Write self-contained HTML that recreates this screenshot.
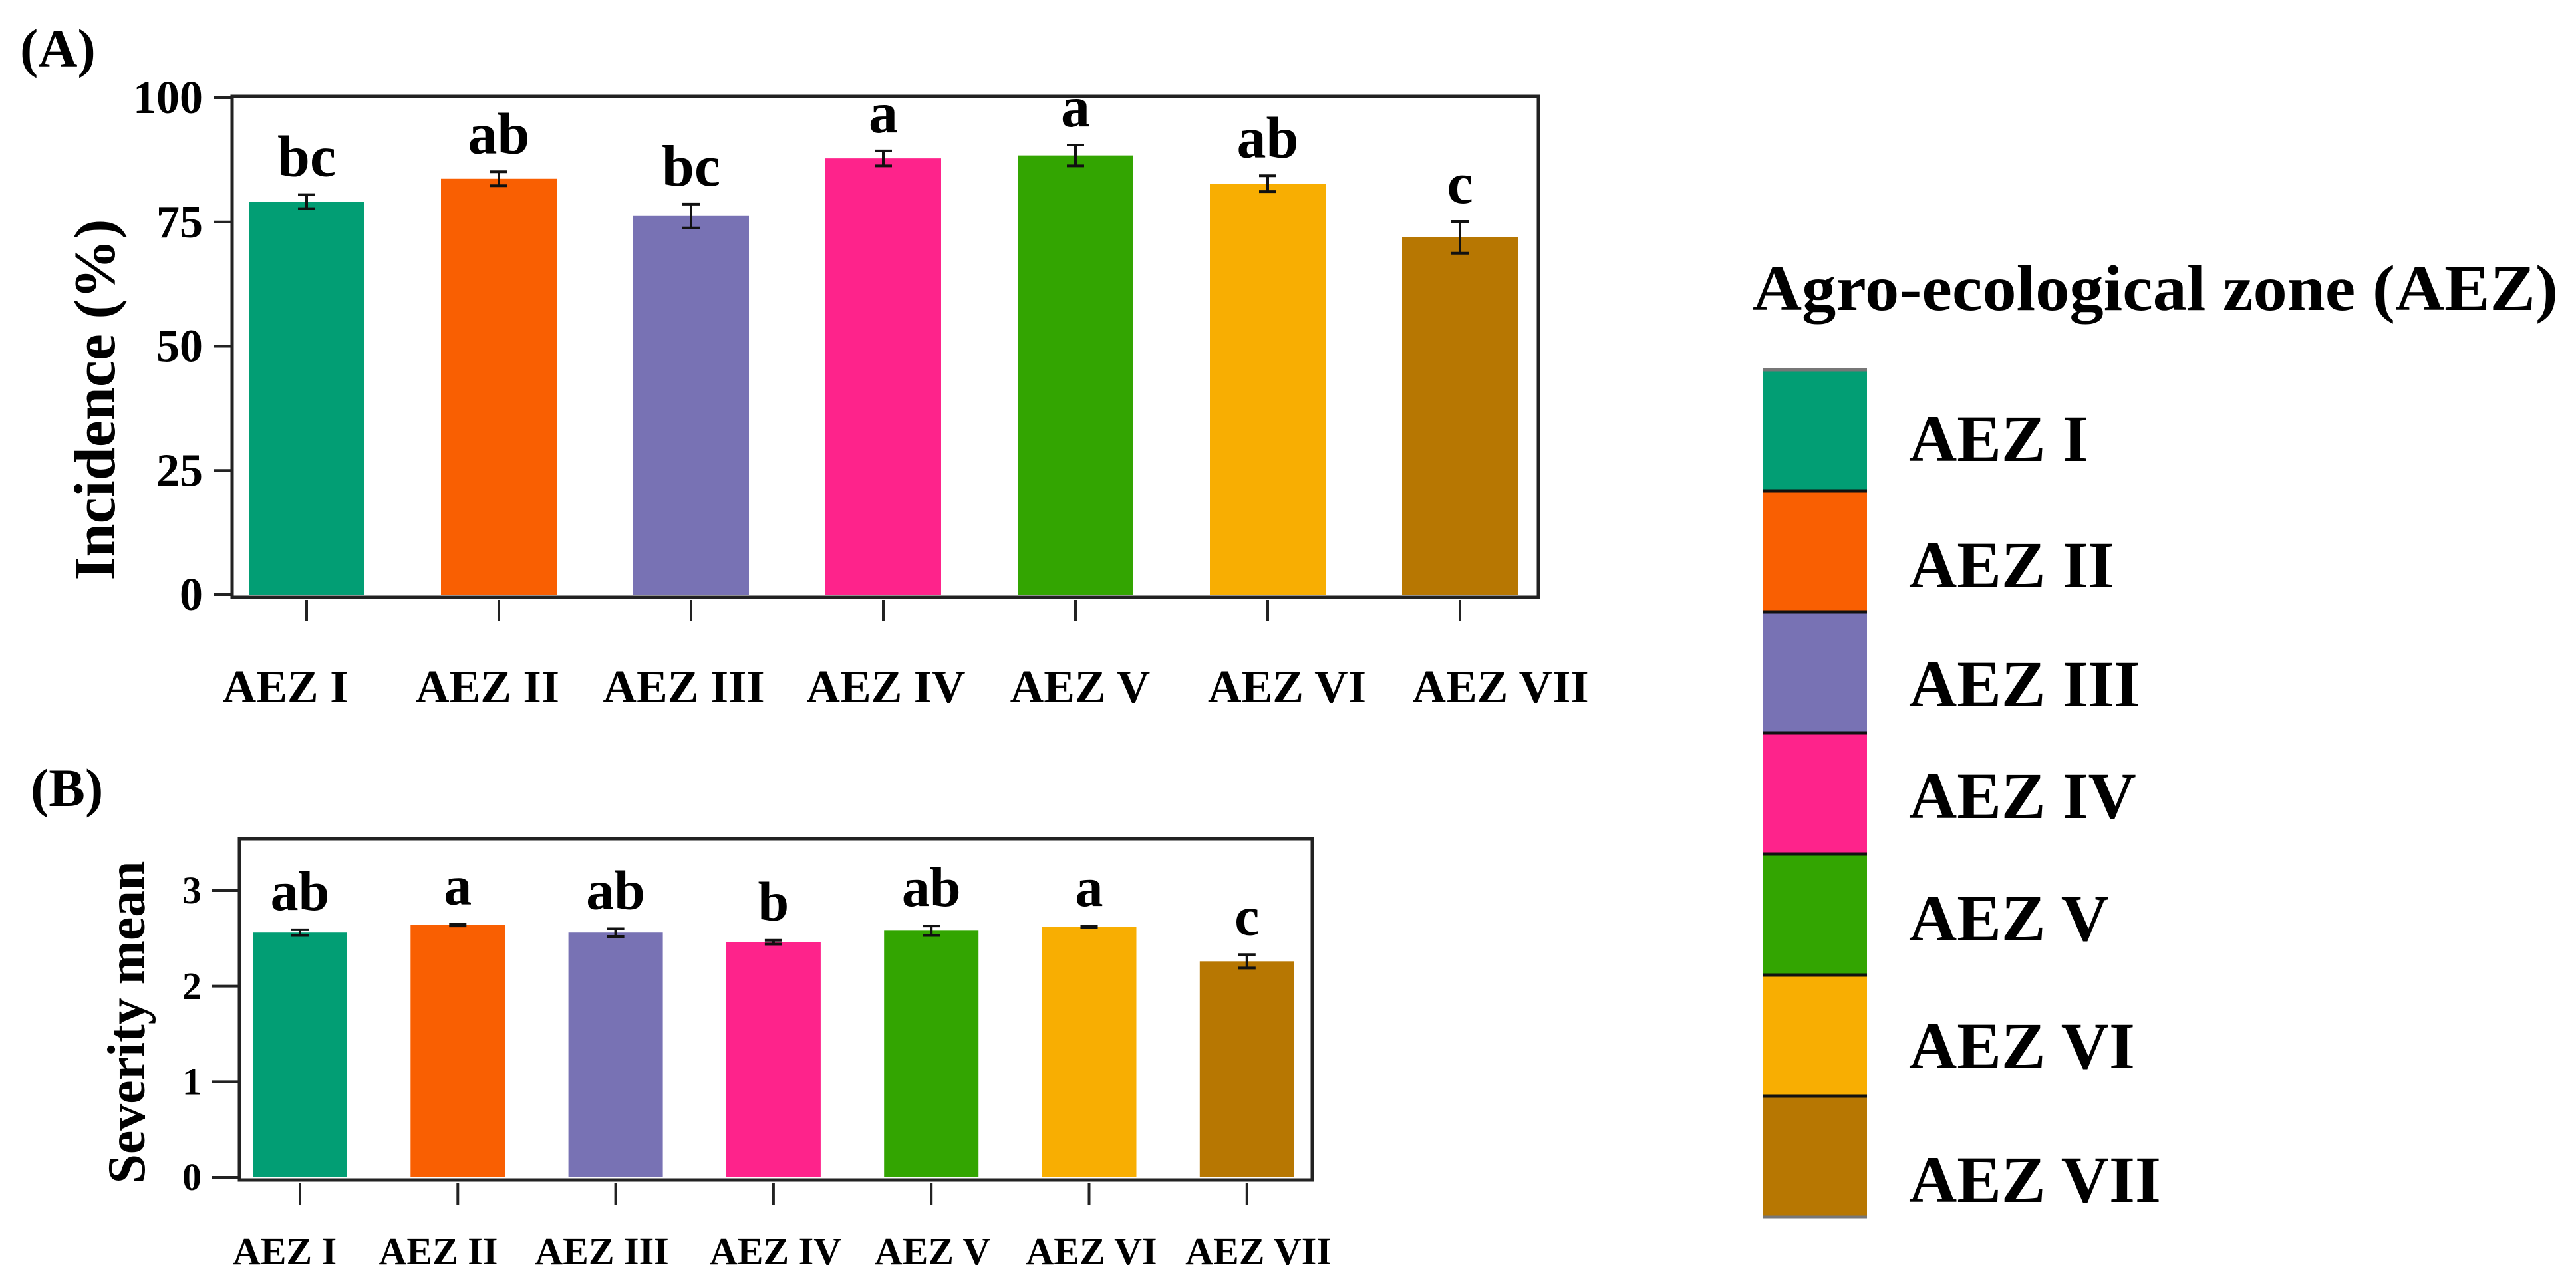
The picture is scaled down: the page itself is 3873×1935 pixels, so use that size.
<!DOCTYPE html>
<html><head><meta charset="utf-8"><style>
html,body{margin:0;padding:0;background:#fff;}
svg{display:block;font-family:"Liberation Serif",serif;font-weight:bold;}
</style></head><body>
<svg id="fig" width="3873" height="1935" viewBox="0 0 3873 1935" xmlns="http://www.w3.org/2000/svg">
<text x="30" y="100" font-size="82">(A)</text>
<text x="46" y="1212" font-size="82">(B)</text>
<g id="chartA"></g>
<g id="chartB"></g>
<g id="legend">
<text x="2635" y="466" font-size="98" textLength="1211" lengthAdjust="spacingAndGlyphs">Agro-ecological zone (AEZ)</text>
</g>
</svg>
<script>
const categories = ["AEZ I","AEZ II","AEZ III","AEZ IV","AEZ V","AEZ VI","AEZ VII"];
const colors = ["#029E74","#F95F02","#7872B4","#FE238B","#33A501","#F8AE02","#B77702"];
const incidenceValues = [79.1, 83.7, 76.2, 87.8, 88.4, 82.7, 71.9];
const incidenceErrors = [1.4, 1.4, 2.4, 1.5, 2.1, 1.6, 3.2];
const incidenceLetters = ["bc","ab","bc","a","a","ab","c"];
const incidenceTicks = [0, 25, 50, 75, 100];
const severityValues = [2.56, 2.64, 2.56, 2.46, 2.58, 2.62, 2.26];
const severityErrors = [0.03, 0.01, 0.04, 0.02, 0.05, 0.01, 0.07];
const severityLetters = ["ab","a","ab","b","ab","a","c"];
const severityTicks = [0, 1, 2, 3];
const xLabelsA = ["AEZ I","AEZ II","AEZ III","AEZ IV","AEZ V","AEZ VI","AEZ  VII"];

const NS = "http://www.w3.org/2000/svg";
function mk(tag, attrs, parent){
  const e = document.createElementNS(NS, tag);
  for (const k in attrs) e.setAttribute(k, attrs[k]);
  parent.appendChild(e); return e;
}

function drawChart(g, cfg){
  const yS = v => cfg.y0 - (v - cfg.ymin) / (cfg.ymax - cfg.ymin) * (cfg.y0 - cfg.yTop);
  const xS = i => cfg.firstX + i * cfg.step;
  // bars
  cfg.values.forEach((v, i) => {
    const r = mk("rect", {x: xS(i) - cfg.bw/2, y: yS(v), width: cfg.bw, height: yS(cfg.ymin) - yS(v), fill: colors[i]}, g);
    
    
    const top = yS(v + cfg.errors[i]), bot = yS(v - cfg.errors[i]);
    const eb = mk("path", {d: `M${xS(i)-13},${top}H${xS(i)+13}M${xS(i)},${top}V${bot}M${xS(i)-13},${bot}H${xS(i)+13}`, stroke: "#111", "stroke-width": 4, fill: "none"}, g);
    
    
    const t = mk("text", {x: xS(i), y: top - cfg.letterGap, "font-size": cfg.letterSize, "text-anchor": "middle"}, g);
    t.textContent = cfg.letters[i];
    
    
    const tk = mk("line", {x1: xS(i), x2: xS(i), y1: cfg.frame.b + 4, y2: cfg.tickBottom, stroke: "#222", "stroke-width": 4}, g);
    
    
  });
  // frame
  const f = cfg.frame;
  const fr = mk("rect", {x: f.l, y: f.t, width: f.r - f.l, height: f.b - f.t, fill: "none", stroke: "#222", "stroke-width": 5}, g);
  
  
  // y ticks
  cfg.ticks.forEach(tv => {
    const ln = mk("line", {x1: cfg.tickLeft, x2: f.l, y1: yS(tv), y2: yS(tv), stroke: "#222", "stroke-width": 4}, g);
    
    
    const tl = mk("text", {x: cfg.tickLeft - 16, y: yS(tv) + cfg.tickSize*0.33, "font-size": cfg.tickSize, "text-anchor": "end"}, g);
    tl.textContent = tv;
    
    
  });
  // x labels
  cfg.xLabels.forEach((lab, i) => {
    const xl = mk("text", {x: cfg.labelX[i], y: cfg.labelY, "font-size": cfg.labelSize, "text-anchor": "middle", "xml:space": "preserve"}, g);
    xl.textContent = lab;
    
    
  });
  const yt = mk("text", {x: cfg.titleX, y: cfg.titleY, "font-size": cfg.titleSize, "text-anchor": "middle", transform: `rotate(-90 ${cfg.titleX} ${cfg.titleY})`, textLength: cfg.titleLen, lengthAdjust: "spacingAndGlyphs"}, g);
  yt.textContent = cfg.title;
  
  
}

drawChart(document.getElementById("chartA"), {
  values: incidenceValues, errors: incidenceErrors, letters: incidenceLetters, ticks: incidenceTicks,
  ymin: 0, ymax: 100, y0: 894, yTop: 147, firstX: 461, step: 289, bw: 174,
  frame: {l: 349, t: 145, r: 2313, b: 898}, tickLeft: 321, tickBottom: 934, tickSize: 70,
  letterGap: 28, letterSize: 88,
  xLabels: xLabelsA, labelX: [429, 733, 1028, 1332, 1624, 1935, 2256], labelY: 1056, labelSize: 70,
  title: "Incidence (%)", titleX: 172, titleY: 601, titleSize: 88, titleLen: 543
});
drawChart(document.getElementById("chartB"), {
  values: severityValues, errors: severityErrors, letters: severityLetters, ticks: severityTicks,
  ymin: 0, ymax: 3, y0: 1770, yTop: 1339, firstX: 451, step: 237.3, bw: 142,
  frame: {l: 360, t: 1261, r: 1973, b: 1774}, tickLeft: 319, tickBottom: 1811, tickSize: 58,
  letterGap: 30, letterSize: 84,
  xLabels: categories, labelX: [428, 659, 905, 1166, 1402, 1641, 1892], labelY: 1901, labelSize: 58,
  title: "Severity mean", titleX: 217, titleY: 1537, titleSize: 80, titleLen: 485
});

// legend
const lg = document.getElementById("legend");
const swTop = 556, swH = 182, swX = 2650, swW = 157;
const labelBase = [693, 883, 1062, 1230, 1414, 1606, 1807];
categories.forEach((c, i) => {
  const s = mk("rect", {x: swX, y: swTop + i*swH, width: swW, height: swH, fill: colors[i]}, lg);
  
  
  const t = mk("text", {x: 2870, y: labelBase[i], "font-size": 100}, lg);
  t.textContent = c;
  
  
});
for (let i = 0; i <= categories.length; i++) {
  const edge = (i === 0 || i === categories.length);
  const l = mk("line", {x1: swX, x2: swX + swW, y1: swTop + i*swH, y2: swTop + i*swH, stroke: edge ? "#777" : "#111", "stroke-width": 5}, lg);
  
  
}
</script>
</body></html>
